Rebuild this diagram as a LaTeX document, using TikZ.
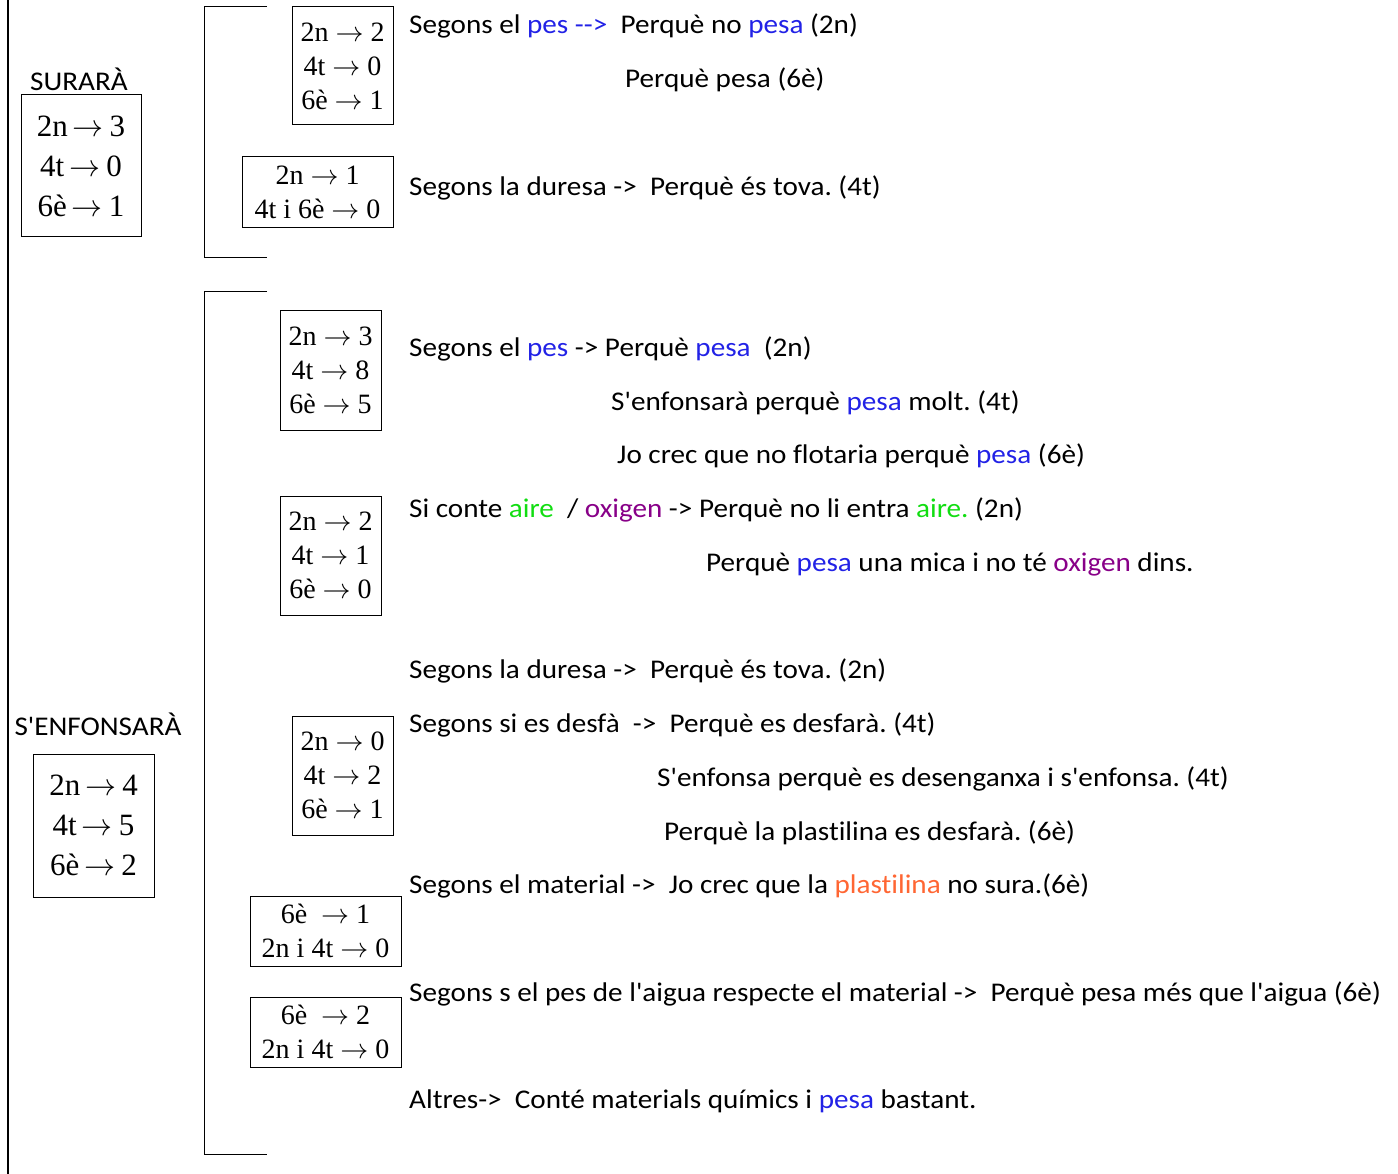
\RequirePackage{fix-cm}
\documentclass[tikz,border=0pt]{standalone}
\usepackage{fontspec}
\setmainfont{Carlito}[Ligatures={TeXOff,NoCommon},FakeStretch=1.08]
\newfontfamily\tnr{Liberation Serif}
\definecolor{cblue}{HTML}{2222E6}
\definecolor{cgreen}{HTML}{11DD11}
\definecolor{cpurple}{HTML}{880088}
\definecolor{corange}{HTML}{FF6633}
\newcommand\cb[1]{\textcolor{cblue}{#1}}
\newcommand\cg[1]{\textcolor{cgreen}{#1}}
\newcommand\cpu[1]{\textcolor{cpurple}{#1}}
\newcommand\cor[1]{\textcolor{corange}{#1}}
\newcommand\ar{$\rightarrow$}
\newcommand\bigar{\hspace{5pt}$\rightarrow$\hspace{6pt}}
\frenchspacing
\tikzset{
  txt/.style={anchor=west,inner sep=0pt,font=\fontsize{27}{32}\selectfont},
  lbl/.style={inner sep=0pt,font=\fontsize{27}{32}\selectfont},
  mbox/.style={draw,line width=1pt,inner sep=0pt,align=center,font=\tnr\fontsize{28}{34}\selectfont},
  bbox/.style={draw,line width=1pt,inner sep=0pt,align=center,font=\tnr\fontsize{31}{40}\selectfont},
  rule/.style={line width=1pt}
}
\begin{document}
\begin{tikzpicture}[x=1pt,y=-1pt]
\useasboundingbox (0,0) rectangle (1398,1174);
% left vertical line
\coordinate (l1) at (8,0); \coordinate (l2) at (8,1174);
\draw[line width=1.4pt] (l1) -- (l2);
% brackets
\coordinate (b1a) at (267,7); \coordinate (b1b) at (204,7); \coordinate (b1c) at (204,258); \coordinate (b1d) at (267,258);
\draw[rule] (b1a) -- (b1b) -- (b1c) -- (b1d);
\coordinate (b2a) at (267,292); \coordinate (b2b) at (204,292); \coordinate (b2c) at (204,1154); \coordinate (b2d) at (267,1154);
\draw[rule] (b2a) -- (b2b) -- (b2c) -- (b2d);
% main labels and boxes
\node[lbl] (sur) at (79,79) {SURARÀ};
\node[bbox,minimum width=120pt,minimum height=142pt] (surbox) at (81,166) {2n\bigar 3\\4t\bigar 0\\6è\bigar 1};
\node[lbl] (enf) at (98,724) {S'ENFONSARÀ};
\node[bbox,minimum width=121pt,minimum height=143pt] (enfbox) at (93.5,825.5) {2n\bigar 4\\4t\bigar 5\\6è\bigar 2};
% small boxes
\node[mbox,minimum width=101pt,minimum height=118pt] (A) at (342.5,66) {2n \ar\ 2\\4t \ar\ 0\\6è \ar\ 1};
\node[mbox,minimum width=151pt,minimum height=71pt] (B) at (317.5,192.5) {2n \ar\ 1\\4t i 6è \ar\ 0};
\node[mbox,minimum width=101pt,minimum height=119pt] (C) at (330.5,370.5) {2n \ar\ 3\\4t \ar\ 8\\6è \ar\ 5};
\node[mbox,minimum width=101pt,minimum height=119pt] (D) at (330.5,555.5) {2n \ar\ 2\\4t \ar\ 1\\6è \ar\ 0};
\node[mbox,minimum width=101pt,minimum height=119pt] (E) at (342.5,775.5) {2n \ar\ 0\\4t \ar\ 2\\6è \ar\ 1};
\node[mbox,minimum width=151pt,minimum height=70pt] (F) at (325.5,931) {6è \ \ar\ 1\\2n i 4t \ar\ 0};
\node[mbox,minimum width=151pt,minimum height=70pt] (G) at (325.5,1032) {6è \ \ar\ 2\\2n i 4t \ar\ 0};
% texts
\node[txt] (t1) at (409,26) {Segons el \cb{pes -->} \ Perquè no \cb{pesa} (2n)};
\node[txt] (t2) at (625,80) {Perquè pesa (6è)};
\node[txt] (t3) at (409,188) {Segons la duresa -> \ Perquè és tova. (4t)};
\node[txt] (t4) at (409,349) {Segons el \cb{pes} -> Perquè \cb{pesa} \ (2n)};
\node[txt] (t5) at (611,403) {S'enfonsarà perquè \cb{pesa} molt. (4t)};
\node[txt] (t6) at (617,456) {Jo crec que no flotaria perquè \cb{pesa} (6è)};
\node[txt] (t7) at (409,510) {Si conte \cg{aire} \ / \cpu{oxigen} -> Perquè no li entra \cg{aire.} (2n)};
\node[txt] (t8) at (706,564) {Perquè \cb{pesa} una mica i no té \cpu{oxigen} dins.};
\node[txt] (t9) at (409,671) {Segons la duresa -> \ Perquè és tova. (2n)};
\node[txt] (t10) at (409,725) {Segons si es desfà \ -> \ Perquè es desfarà. (4t)};
\node[txt] (t11) at (657,779) {S'enfonsa perquè es desenganxa i s'enfonsa. (4t)};
\node[txt] (t12) at (664,833) {Perquè la plastilina es desfarà. (6è)};
\node[txt] (t13) at (409,886) {Segons el material -> \ Jo crec que la \cor{plastilina} no sura.(6è)};
\node[txt] (t14) at (409,994) {Segons s el pes de l'aigua respecte el material -> \ Perquè pesa més que l'aigua (6è)};
\node[txt] (t15) at (409,1101) {Altres-> \ Conté materials químics i \cb{pesa} bastant.};
\end{tikzpicture}
\end{document}
